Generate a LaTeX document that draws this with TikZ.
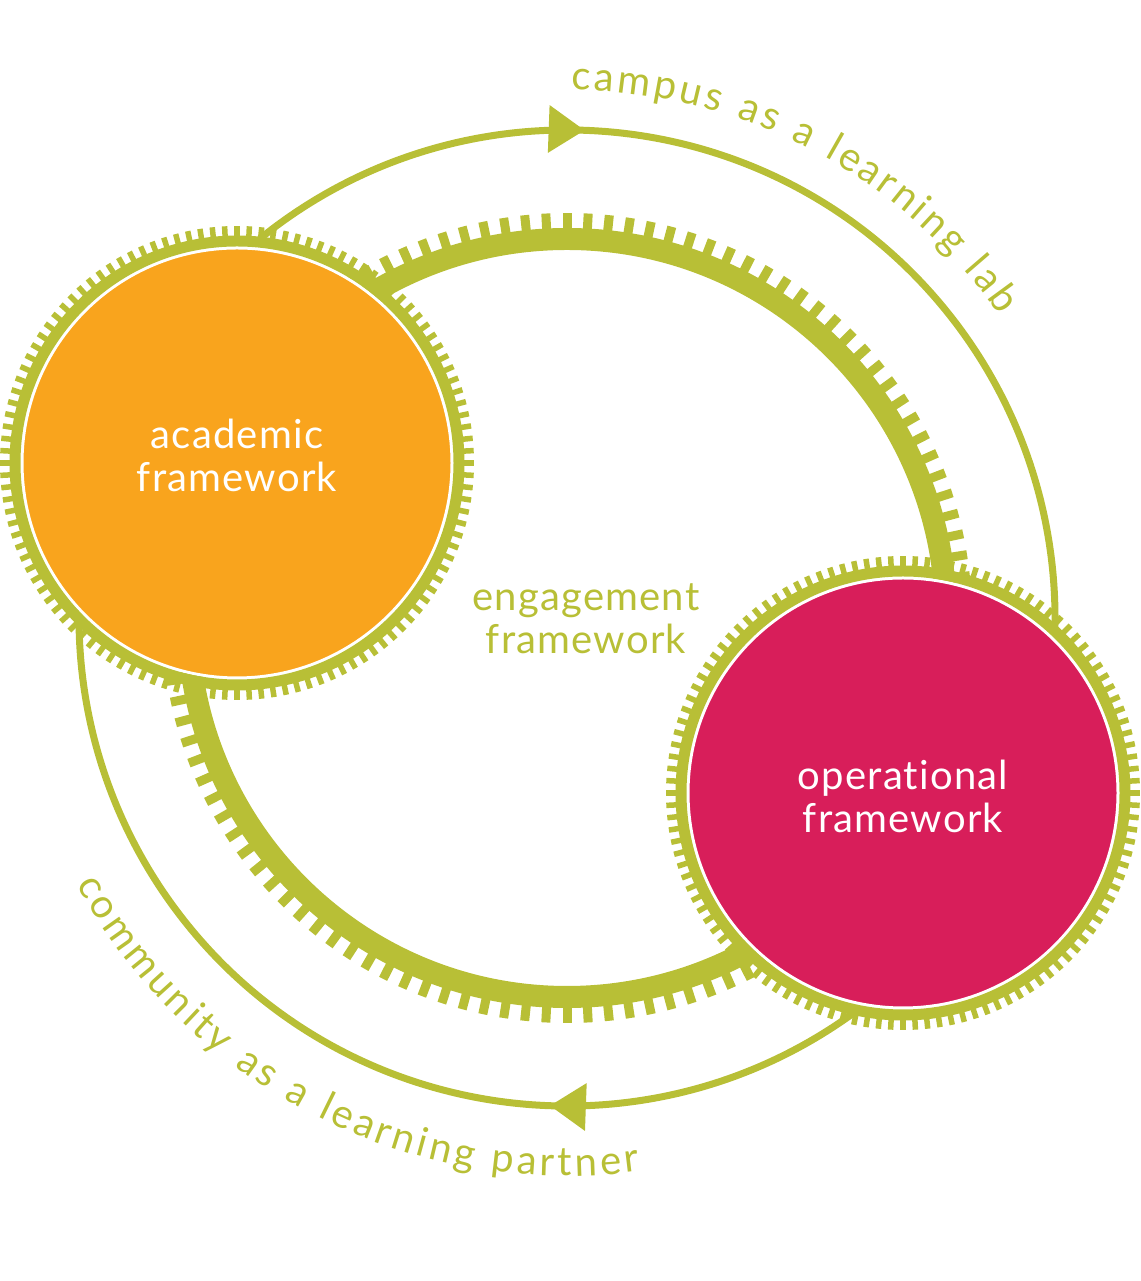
\documentclass[tikz,border=0pt]{standalone}
\usepackage{fontspec}
\setmainfont{Lato}[Ligatures=NoCommon, LetterSpace=3]
\usetikzlibrary{calc,arrows.meta,decorations.markings,decorations.text}
\definecolor{leaf}{RGB}{184,191,54}
\definecolor{amber}{RGB}{249,164,29}
\definecolor{berry}{RGB}{216,30,90}
\begin{document}
\begin{tikzpicture}[x=1pt, y=1pt,
  core/.style={circle, draw=white, line width=3pt, minimum size=430pt, inner sep=0pt},
  inlbl/.style={text=white, align=center, font=\fontsize{40}{43}\selectfont},
  lbl/.style={text=leaf, align=center, font=\fontsize{40}{43}\selectfont},
  loop/.style={leaf, line width=7pt},
  tip/.style={decoration={markings, mark=at position #1 with {\arrow{Triangle[length=36pt,width=46pt]}}}, postaction={decorate}}]
\useasboundingbox (0,0) rectangle (1140,1281);
\coordinate (hub) at (567,663);
%outer loops
\draw[loop, tip=0.316] ($(hub)+(129:488)$) arc[start angle=129, end angle=-1, radius=488];
\draw[loop, tip=0.297] ($(hub)+(-54:488)$) arc[start angle=-54, end angle=-182, radius=488];
\path[decorate, decoration={text along path, text align=fit to path,
  text={|\fontsize{40}{40}\selectfont\color{leaf}|campus as a learning lab}}]
  ($(hub)+(89.5:528)$) arc[start angle=89.5, end angle=35, radius=528];
\path[decorate, decoration={text along path, text align=fit to path,
  text={|\fontsize{40}{40}\selectfont\color{leaf}|community as a learning partner}}]
  ($(hub)+(-151.5:558)$) arc[start angle=-151.5, end angle=-82.5, radius=558];
%engagement gear
\draw[leaf, line width=22pt] (hub) circle[radius=379];
\foreach \a in {0,3,...,357}
  \draw[leaf, line width=9pt] (hub) ++(\a:386) -- ++(\a:19);
\node[lbl] (engagement) at (586,662) {engagement\\framework};
%small gears
\node[core, fill=amber] (academic) at (237,818) {};
\node[core, fill=berry] (operational) at (903,488) {};
\foreach \g in {academic, operational}{
  \draw[leaf, line width=11pt] (\g.center) circle[radius=222];
  \foreach \a in {0,3,...,357}
    \draw[leaf, line width=5.5pt] (\g.center) ++(\a:225) -- ++(\a:12);
}
\node[inlbl] (academic text) at ([yshift=8]academic.center) {academic\\framework};
\node[inlbl] (operational text) at ([yshift=-3]operational.center) {operational\\framework};
\end{tikzpicture}
\end{document}
